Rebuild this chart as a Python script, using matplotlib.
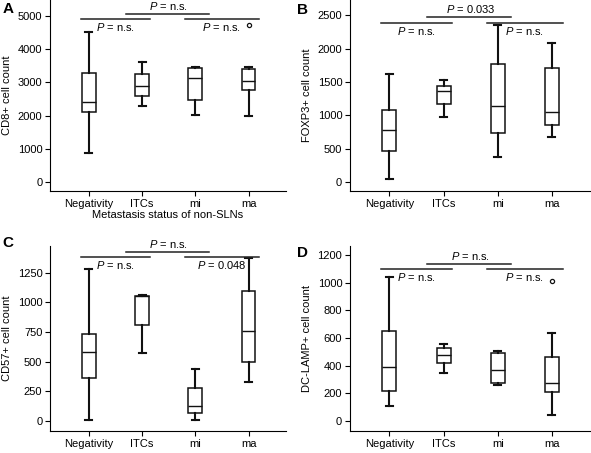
import matplotlib
matplotlib.use('Agg')
import matplotlib.pyplot as plt

plt.rcParams['font.family'] = ['Liberation Sans', 'DejaVu Sans']
plt.rcParams['mathtext.fontset'] = 'custom'
plt.rcParams['mathtext.rm'] = 'Liberation Sans'
plt.rcParams['mathtext.it'] = 'Liberation Sans:italic'

categories = ['Negativity', 'ITCs', 'mi', 'ma']

# box statistics: whisker low, Q1, median, Q3, whisker high, outliers
cd8_lo = [865, 2290, 2030, 1990]
cd8_q1 = [2110, 2590, 2470, 2770]
cd8_med = [2420, 2890, 3125, 3030]
cd8_q3 = [3275, 3255, 3425, 3395]
cd8_hi = [4520, 3625, 3475, 3475]
cd8_out = [[], [], [], [4730]]

foxp3_lo = [40, 975, 375, 675]
foxp3_q1 = [465, 1165, 740, 860]
foxp3_med = [775, 1365, 1145, 1055]
foxp3_q3 = [1075, 1445, 1765, 1715]
foxp3_hi = [1615, 1535, 2355, 2090]
foxp3_out = [[], [], [], []]

cd57_lo = [5, 570, 10, 325]
cd57_q1 = [365, 810, 65, 500]
cd57_med = [585, 1050, 125, 755]
cd57_q3 = [735, 1055, 280, 1095]
cd57_hi = [1280, 1065, 440, 1370]
cd57_out = [[], [], [], []]

dc_lo = [108, 345, 262, 43]
dc_q1 = [215, 420, 272, 212]
dc_med = [393, 477, 369, 277]
dc_q3 = [648, 525, 488, 465]
dc_hi = [1040, 560, 508, 635]
dc_out = [[], [], [], [1012]]

# p-value labels: top bracket, left bracket, right bracket
p_cd8 = ['n.s.', 'n.s.', 'n.s.']
p_foxp3 = ['0.033', 'n.s.', 'n.s.']
p_cd57 = ['n.s.', 'n.s.', '0.048']
p_dc = ['n.s.', 'n.s.', 'n.s.']


def make_stats(lo, q1, med, q3, hi, out):
    return [dict(whislo=lo[i], q1=q1[i], med=med[i], q3=q3[i], whishi=hi[i], fliers=out[i])
            for i in range(len(lo))]


def draw_panel(ax, stats, ylabel, ylim, yticks, pvals, br_y):
    ax.bxp(stats, positions=range(len(categories)), widths=0.26, patch_artist=True,
           boxprops=dict(facecolor='white', edgecolor='#111111', linewidth=1.1),
           medianprops=dict(color='#111111', linewidth=1.0),
           whiskerprops=dict(color='#111111', linewidth=1.5),
           capprops=dict(color='#111111', linewidth=1.5),
           capwidths=0.13,
           flierprops=dict(marker='o', markersize=3, markerfacecolor='white',
                           markeredgecolor='#111111', markeredgewidth=0.9))
    ax.set_xlim(-0.73, 3.7)
    ax.set_ylim(*ylim)
    ax.set_yticks(yticks)
    ax.set_xticks(range(len(categories)))
    ax.set_xticklabels(categories)
    ax.spines['top'].set_visible(False)
    ax.spines['right'].set_visible(False)
    ax.tick_params(direction='out', length=3.5, width=0.8, labelsize=8, pad=2)
    ax.set_ylabel(ylabel, fontsize=8, labelpad=4)

    # significance brackets (low, high, low)
    y_low, y_high = br_y
    spans = [(-0.15, 1.15, y_low), (0.7, 2.25, y_high), (1.8, 3.2, y_low)]
    for x0, x1, y in spans:
        ax.plot([x0, x1], [y, y], color='#222222', linewidth=1.1, clip_on=False)
    ax.annotate('$P$ = ' + pvals[0], xy=(1.5, y_high), xytext=(0, 1.5),
                textcoords='offset points', ha='center', va='bottom', fontsize=8,
                annotation_clip=False)
    ax.annotate('$P$ = ' + pvals[1], xy=(0.5, y_low), xytext=(0, -1.5),
                textcoords='offset points', ha='center', va='top', fontsize=8)
    ax.annotate('$P$ = ' + pvals[2], xy=(2.5, y_low), xytext=(0, -1.5),
                textcoords='offset points', ha='center', va='top', fontsize=8)


fig = plt.figure(figsize=(5.91, 4.53), dpi=100)
ax_a = fig.add_axes([0.0846, 0.578, 0.399, 0.422])
ax_b = fig.add_axes([0.592, 0.578, 0.406, 0.422])
ax_c = fig.add_axes([0.0846, 0.0486, 0.399, 0.409])
ax_d = fig.add_axes([0.592, 0.0486, 0.406, 0.409])

draw_panel(ax_a, make_stats(cd8_lo, cd8_q1, cd8_med, cd8_q3, cd8_hi, cd8_out),
           'CD8+ cell count', (-270, 5480), [0, 1000, 2000, 3000, 4000, 5000],
           p_cd8, (4900, 5060))
ax_a.set_xlabel('Metastasis status of non-SLNs', fontsize=8, labelpad=1)

draw_panel(ax_b, make_stats(foxp3_lo, foxp3_q1, foxp3_med, foxp3_q3, foxp3_hi, foxp3_out),
           'FOXP3+ cell count', (-140, 2730), [0, 500, 1000, 1500, 2000, 2500],
           p_foxp3, (2390, 2470))

draw_panel(ax_c, make_stats(cd57_lo, cd57_q1, cd57_med, cd57_q3, cd57_hi, cd57_out),
           'CD57+ cell count', (-84, 1476), [0, 250, 500, 750, 1000, 1250],
           p_cd57, (1385, 1421))

draw_panel(ax_d, make_stats(dc_lo, dc_q1, dc_med, dc_q3, dc_hi, dc_out),
           'DC-LAMP+ cell count', (-72, 1267), [0, 200, 400, 600, 800, 1000, 1200],
           p_dc, (1096, 1137))

# panel letters
for letter, fx, fy in [('A', 0.004, 0.995), ('B', 0.503, 0.993),
                       ('C', 0.004, 0.478), ('D', 0.503, 0.457)]:
    fig.text(fx, fy, letter, fontsize=11, fontweight='bold', ha='left', va='top')

fig.savefig('out.png', dpi=100)
